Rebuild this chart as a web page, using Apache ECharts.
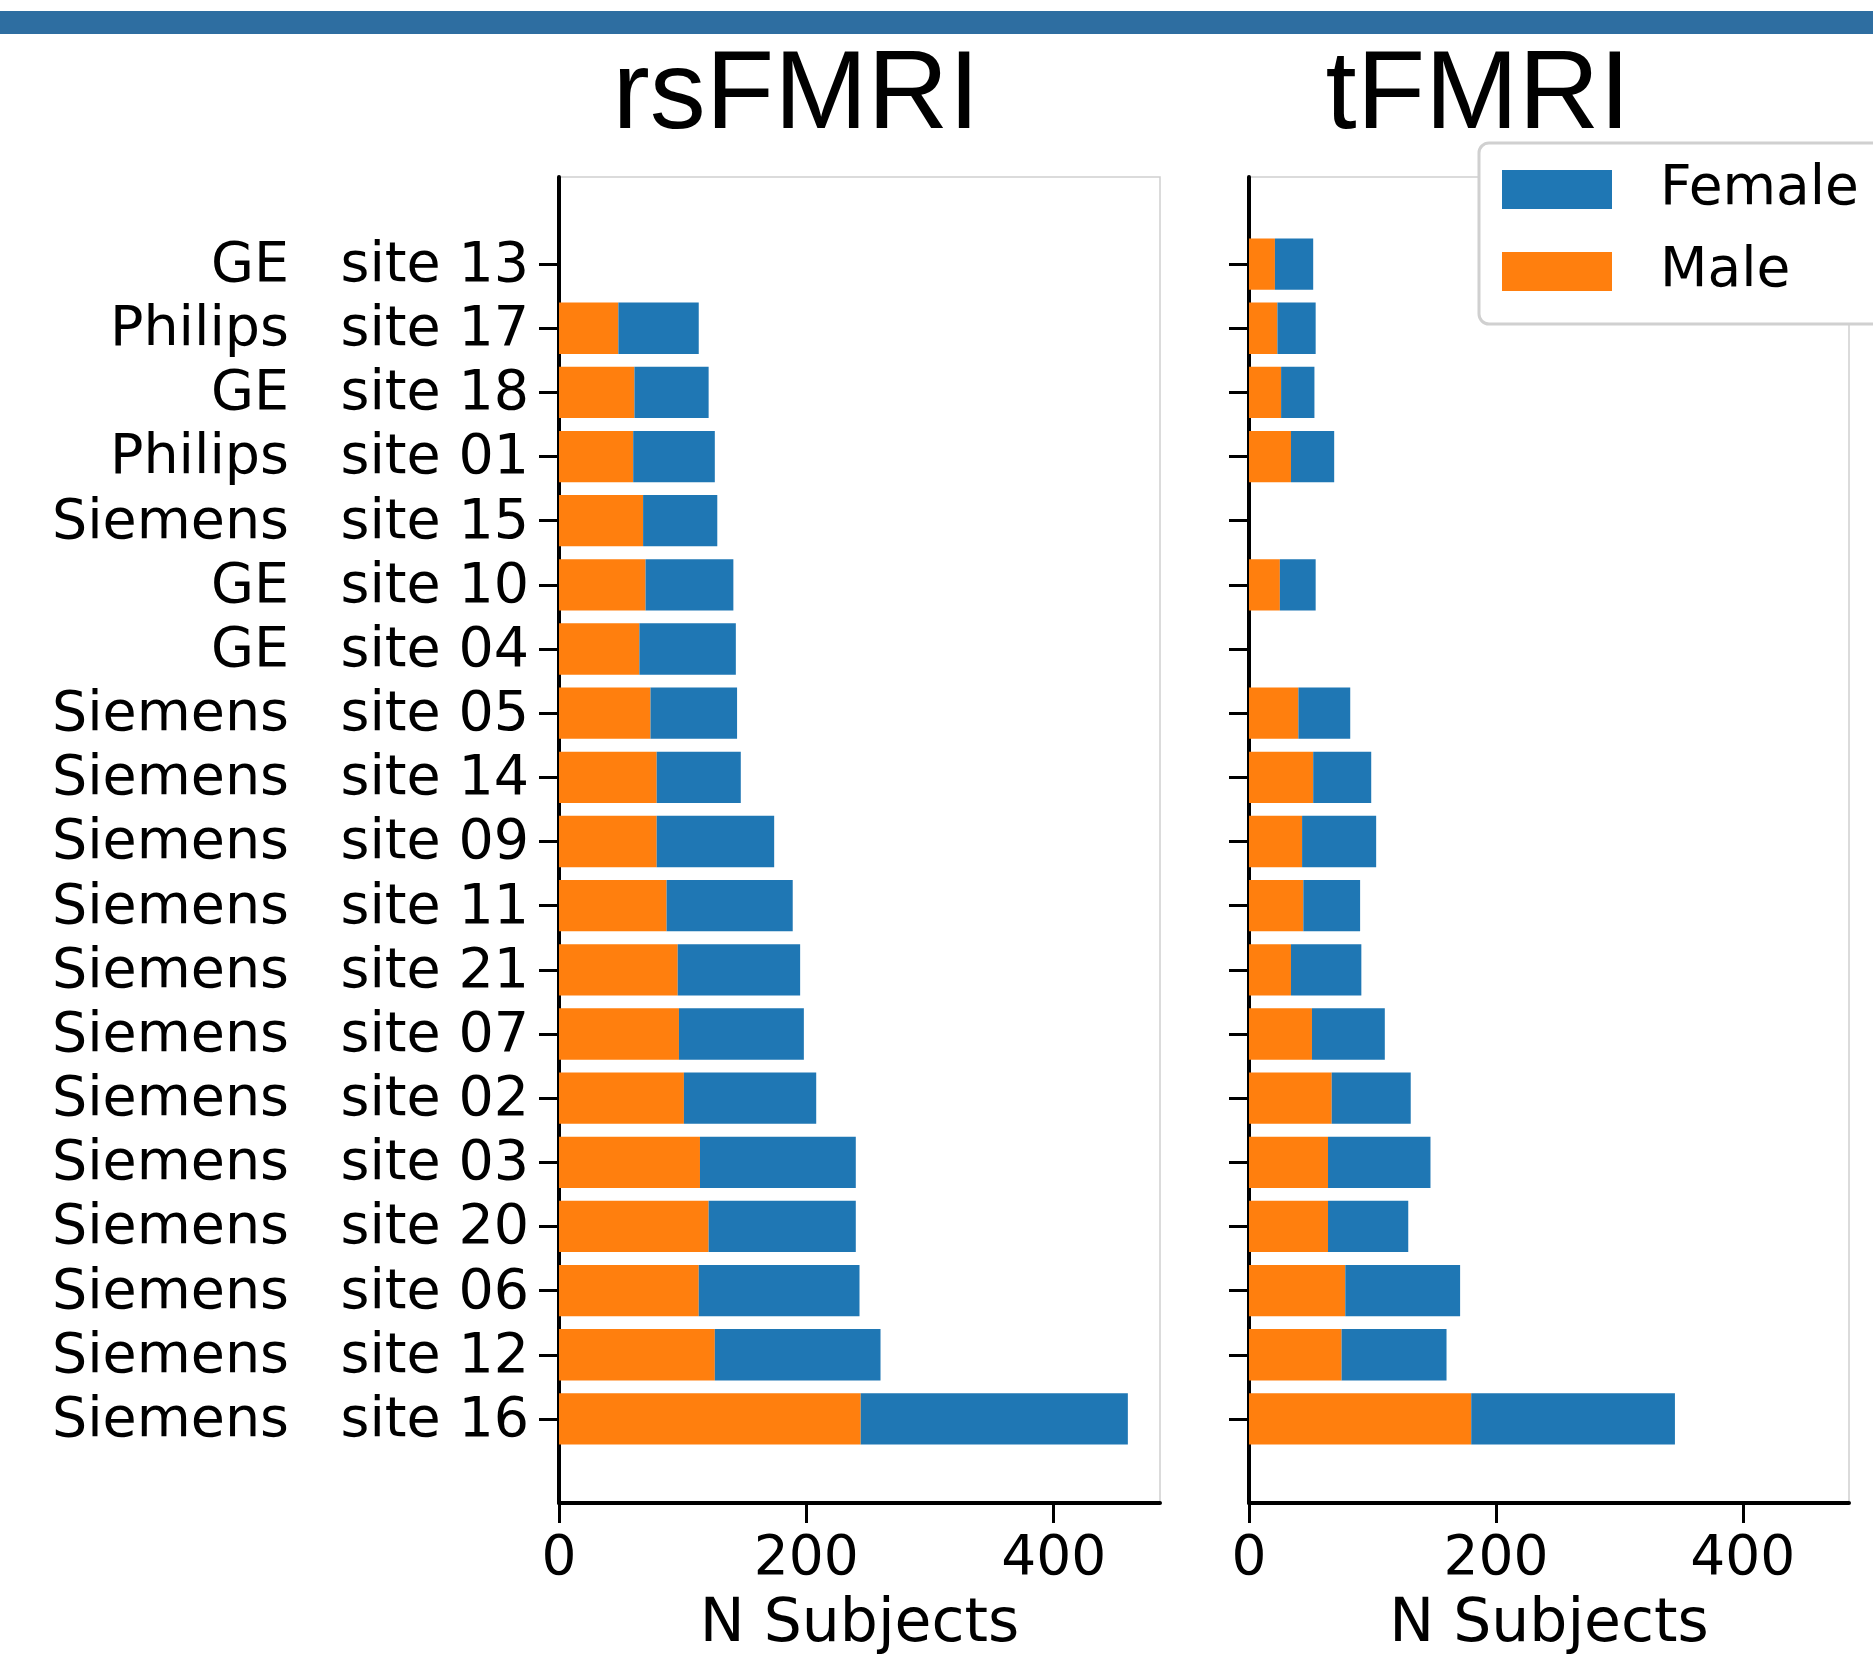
<!DOCTYPE html>
<html>
<head>
<meta charset="utf-8">
<script src="https://cdn.jsdelivr.net/npm/echarts@6/dist/echarts.min.js"></script>
<style>
  html, body { margin: 0; padding: 0; background: #fff; }
  #chart { width: 1873px; height: 1665px; }
</style>
</head>
<body>
<div id="chart"></div>
<script>
// Categories, top to bottom
const sites = ['site 13','site 17','site 18','site 01','site 15','site 10','site 04','site 05','site 14','site 09','site 11','site 21','site 07','site 02','site 03','site 20','site 06','site 12','site 16'];
const manufacturers = ['GE','Philips','GE','Philips','Siemens','GE','GE','Siemens','Siemens','Siemens','Siemens','Siemens','Siemens','Siemens','Siemens','Siemens','Siemens','Siemens','Siemens'];

// rsFMRI counts
const rsMale   = [0, 48, 61, 60, 68, 70, 65, 74, 79, 79, 87, 96, 97, 101, 114, 121, 113, 126, 244];
const rsFemale = [0, 65, 60, 66, 60, 71, 78, 70, 68, 95, 102, 99, 101, 107, 126, 119, 130, 134, 216];

// tFMRI counts
const tMale   = [21, 23, 26, 34, 0, 25, 0, 40, 52, 43, 44, 34, 51, 67, 64, 64, 78, 75, 180];
const tFemale = [31, 31, 27, 35, 0, 29, 0, 42, 47, 60, 46, 57, 59, 64, 83, 65, 93, 85, 165];

const xTicks = [0, 200, 400];
const titles = ['rsFMRI', 'tFMRI'];
const xName = 'N Subjects';

const FEMALE = '#1f77b4', MALE = '#ff7f0e';
const FONT = 'DejaVu Sans';
const XMAX = 486;

const chart = echarts.init(document.getElementById('chart'));

const frameTop = 177, frameBottom = 1665 - 1503;
const barTop = 232, barBottom = 1665 - 1451;
const panels = [{left: 559, right: 1873 - 1160}, {left: 1249, right: 1873 - 1849}];

const grids = [], xAxes = [], yAxes = [];
panels.forEach((p, pi) => {
  // frame grid
  grids.push({left: p.left, right: p.right, top: frameTop, bottom: frameBottom, show: true,
    borderColor: '#cfcfcf', borderWidth: 1.5, backgroundColor: 'transparent'});
  xAxes.push({type: 'value', gridIndex: pi * 2, min: 0, max: XMAX, interval: 200,
    axisLine: {show: true, lineStyle: {color: '#000', width: 4}},
    axisTick: {show: true, length: 20, lineStyle: {color: '#000', width: 3},
      customValues: xTicks},
    axisLabel: {show: true, fontFamily: FONT, fontSize: 55, color: '#000', margin: 29,
      customValues: xTicks},
    splitLine: {show: false},
    name: xName, nameLocation: 'middle', nameGap: 92,
    nameTextStyle: {fontFamily: FONT, fontSize: 60, color: '#000', verticalAlign: 'top'}});
  yAxes.push({type: 'value', gridIndex: pi * 2, min: 0, max: 1,
    axisLine: {show: true, lineStyle: {color: '#000', width: 4}},
    axisTick: {show: false}, axisLabel: {show: false}, splitLine: {show: false}});
  // bar grid
  grids.push({left: p.left, right: p.right, top: barTop, bottom: barBottom, show: false});
  xAxes.push({type: 'value', gridIndex: pi * 2 + 1, min: 0, max: XMAX, show: false});
  yAxes.push({type: 'category', gridIndex: pi * 2 + 1, data: sites, inverse: true,
    axisLine: {show: false},
    axisTick: {show: true, alignWithLabel: true, interval: 0, length: 20,
      lineStyle: {color: '#000', width: 3}},
    axisLabel: pi === 0 ? {
      show: true, interval: 0, margin: 30,
      formatter: (v, i) => '{m|' + manufacturers[i] + '}{s|' + v + '}',
      rich: {
        m: {width: 229, align: 'right', fontFamily: FONT, fontSize: 55.5, color: '#000', padding: [5, 0, 0, 0]},
        s: {width: 240, align: 'right', fontFamily: FONT, fontSize: 55.5, color: '#000', padding: [5, 0, 0, 0]}
      }
    } : {show: false},
    splitLine: {show: false}});
});

const series = [
  {name: 'Male', type: 'bar', xAxisIndex: 1, yAxisIndex: 1, stack: 'rs', data: rsMale, barWidth: '80%', itemStyle: {color: MALE}},
  {name: 'Female', type: 'bar', xAxisIndex: 1, yAxisIndex: 1, stack: 'rs', data: rsFemale, barWidth: '80%', itemStyle: {color: FEMALE}},
  {name: 'Male', type: 'bar', xAxisIndex: 3, yAxisIndex: 3, stack: 't', data: tMale, barWidth: '80%', itemStyle: {color: MALE}},
  {name: 'Female', type: 'bar', xAxisIndex: 3, yAxisIndex: 3, stack: 't', data: tFemale, barWidth: '80%', itemStyle: {color: FEMALE}}
];

chart.setOption({
  animation: false,
  backgroundColor: '#fff',
  grid: grids,
  xAxis: xAxes,
  yAxis: yAxes,
  series: series,
  legend: {
    data: ['Female', 'Male'], orient: 'vertical', left: 1479, top: 143,
    icon: 'rect', itemWidth: 110, itemHeight: 39, itemGap: 27,
    padding: [19, 80, 25, 23], backgroundColor: '#fff',
    borderColor: '#d0d0d0', borderWidth: 3, borderRadius: 10,
    selectedMode: false,
    textStyle: {fontFamily: FONT, fontSize: 55, color: '#000', padding: [0, 0, 0, 43], lineHeight: 39}
  },
  graphic: [
    {type: 'rect', shape: {x: 0, y: 11, width: 1873, height: 23}, style: {fill: '#2e6ea1'}, z: 10},
    {type: 'text', x: 796, y: 97, style: {text: titles[0], fontFamily: 'Liberation Sans', fontSize: 112, fill: '#000', align: 'center', verticalAlign: 'middle'}},
    {type: 'text', x: 1478, y: 97, style: {text: titles[1], fontFamily: 'Liberation Sans', fontSize: 112, fill: '#000', align: 'center', verticalAlign: 'middle'}}
  ]
});
</script>
</body>
</html>
